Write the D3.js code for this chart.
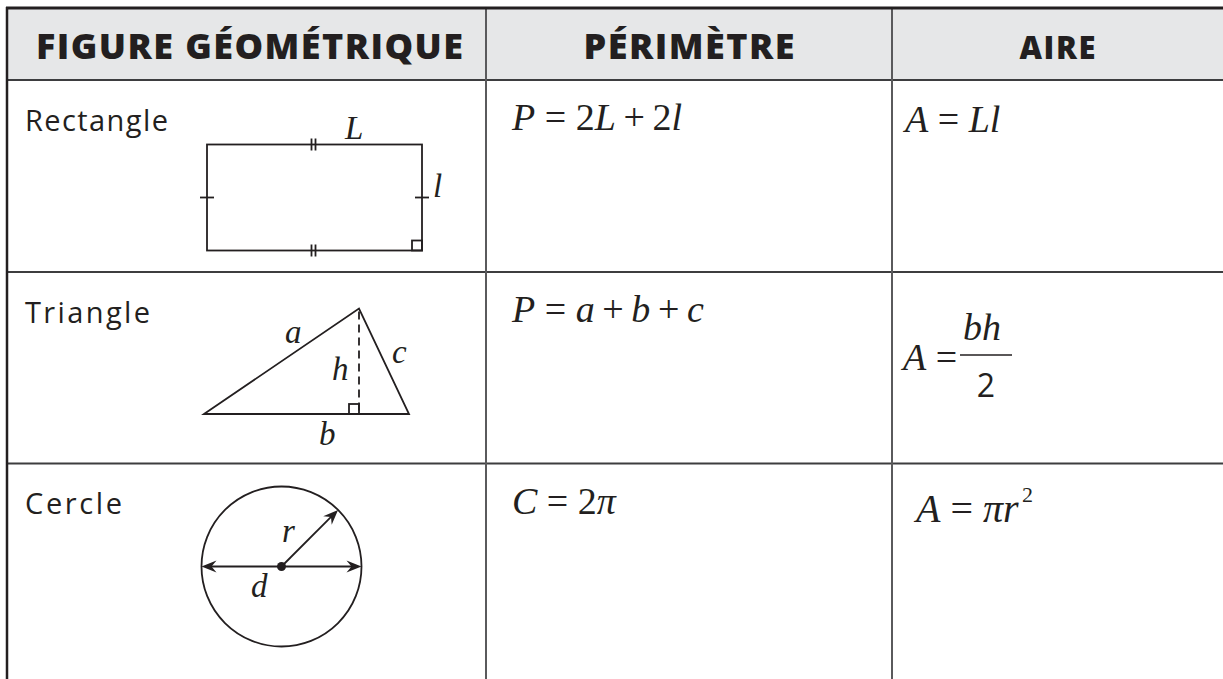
<!DOCTYPE html>
<html>
<head>
<meta charset="utf-8">
<script src="https://cdn.jsdelivr.net/npm/d3@7"></script>
<style>
body { margin: 0; background: #fff; }
.head { font-family: "Open Sans", sans-serif; font-weight: 800; fill: #231f20; }
.label { font-family: "Open Sans", sans-serif; fill: #231f20; }
.math { font-family: "Liberation Serif", "Times New Roman", serif; fill: #231f20; }
.fig { fill: none; stroke: #231f20; stroke-width: 1.8; }
</style>
</head>
<body>
<div id="chart"></div>
<script>
// table content
var headers = ["FIGURE GÉOMÉTRIQUE", "PÉRIMÈTRE", "AIRE"];
var figures = ["Rectangle", "Triangle", "Cercle"];
var perimeters = ["P = 2L+2l", "P = a+b+c", "C = 2π"];
var areas = ["A = Ll", "A = bh/2", "A = πr^2"];

var width = 1223, height = 679;
var ink = "#231f20";

// column / row edges
var colX = d3.scaleLinear().domain([0, 1, 2, 3]).range([7, 486, 892, 1223]);
var rowY = d3.scaleLinear().domain([0, 1, 2, 3]).range([80, 272, 463.5, 655]);

var svg = d3.select("#chart").append("svg")
  .attr("width", width).attr("height", height)
  .style("display", "block");

svg.append("rect").attr("width", width).attr("height", height).attr("fill", "#fff");

// header band
svg.append("rect")
  .attr("x", colX(0)).attr("y", 8)
  .attr("width", width - colX(0)).attr("height", rowY(0) - 8)
  .attr("fill", "#e6e7e8");

// grid lines
svg.selectAll("line.h").data([0, 1, 2]).enter().append("line")
  .attr("x1", colX(0)).attr("x2", width)
  .attr("y1", function(d) { return rowY(d); })
  .attr("y2", function(d) { return rowY(d); })
  .attr("stroke", "#3d3d3f").attr("stroke-width", 2);

svg.selectAll("line.v").data([1, 2]).enter().append("line")
  .attr("x1", function(d) { return colX(d); })
  .attr("x2", function(d) { return colX(d); })
  .attr("y1", 8).attr("y2", height)
  .attr("stroke", "#5a5a5c").attr("stroke-width", 2);

svg.append("line").attr("x1", 6).attr("x2", width).attr("y1", 8).attr("y2", 8)
  .attr("stroke", ink).attr("stroke-width", 3);
svg.append("line").attr("x1", 7).attr("x2", 7).attr("y1", 7).attr("y2", height)
  .attr("stroke", ink).attr("stroke-width", 2.5);

// headers
var headSize = [36, 36, 31], headLen = [427, 211, 76];
svg.selectAll("text.head").data(headers).enter().append("text")
  .attr("class", "head")
  .attr("x", function(d, i) { return (colX(i) + colX(i + 1)) / 2 + (i == 0 ? 3 : 0); })
  .attr("y", function(d, i) { return i == 2 ? 59 : 58.5; })
  .attr("text-anchor", "middle")
  .attr("font-size", function(d, i) { return headSize[i]; })
  .attr("textLength", function(d, i) { return headLen[i]; })
  .attr("lengthAdjust", "spacing")
  .text(function(d) { return d; });

// row labels
var labelLen = [143, 125, 97];
svg.selectAll("text.label").data(figures).enter().append("text")
  .attr("class", "label")
  .attr("x", 25)
  .attr("y", function(d, i) { return rowY(i) + 50.5; })
  .attr("font-size", 29)
  .attr("textLength", function(d, i) { return labelLen[i]; })
  .attr("lengthAdjust", "spacing")
  .text(function(d) { return d; });

// formula writer: letters italic, digits/operators upright
function runs(str) {
  var out = [];
  str.split("").forEach(function(c) {
    var it = /[A-Za-zπ]/.test(c);
    var last = out[out.length - 1];
    if (last && last.it == it) last.t += c;
    else out.push({t: c, it: it});
  });
  return out;
}

function writeMath(g, str, x, y, size) {
  var sup = null;
  if (str.indexOf("^") >= 0) { sup = str.split("^")[1]; str = str.split("^")[0]; }
  str = str.replace(/\+/g, "\u2009+\u2009");
  var t = g.append("text").attr("class", "math")
    .attr("x", x).attr("y", y).attr("font-size", size)
    .attr("xml:space", "preserve").style("white-space", "pre");
  runs(str).forEach(function(r) {
    t.append("tspan").attr("font-style", r.it ? "italic" : "normal").text(r.t);
  });
  if (sup) {
    var bb = t.node().getBBox();
    g.append("text").attr("class", "math")
      .attr("x", bb.x + bb.width + 3).attr("y", y - size * 0.5)
      .attr("font-size", size * 0.55).text(sup);
  }
  return t;
}

var cells = svg.append("g");

// perimeter column
perimeters.forEach(function(p, i) {
  writeMath(cells, p, colX(1) + 26, rowY(i) + 50, 38);
});

// area column
var areaX = [905, 903, 916];
areas.forEach(function(a, i) {
  if (a.indexOf("/") >= 0) {
    var lhs = a.split(" = ")[0], frac = a.split(" = ")[1].split("/");
    writeMath(cells, lhs + " =", areaX[i], rowY(i) + 98, 38);
    var fx = areaX[i] + 57, fw = 52;
    writeMath(cells, frac[0], fx + 3, rowY(i) + 68, 38);
    cells.append("line").attr("x1", fx).attr("x2", fx + fw)
      .attr("y1", rowY(i) + 83).attr("y2", rowY(i) + 83)
      .attr("stroke", ink).attr("stroke-width", 1.5);
    cells.append("text").attr("class", "label")
      .attr("x", fx + fw / 2).attr("y", rowY(i) + 125)
      .attr("text-anchor", "middle").attr("font-size", 32).text(frac[1]);
  } else {
    writeMath(cells, a, areaX[i], i == 0 ? rowY(i) + 52 : rowY(i) + 58.5, i == 2 ? 40 : 38);
  }
});

// ---- figures ----
var fig = svg.append("g");

function italicLabel(t, x, y, size) {
  fig.append("text").attr("class", "math").attr("font-style", "italic")
    .attr("x", x).attr("y", y).attr("font-size", size || 33).text(t);
}

// rectangle
var rx = d3.scaleLinear().domain([0, 1]).range([207, 422]);
var ry = d3.scaleLinear().domain([0, 1]).range([144.5, 250.5]);
fig.append("rect").attr("class", "fig")
  .attr("x", rx(0)).attr("y", ry(0))
  .attr("width", rx(1) - rx(0)).attr("height", ry(1) - ry(0));
[ry(0), ry(1)].forEach(function(y) {
  [-2, 2].forEach(function(dx) {
    fig.append("line").attr("class", "fig")
      .attr("x1", (rx(0) + rx(1)) / 2 - 1 + dx).attr("x2", (rx(0) + rx(1)) / 2 - 1 + dx)
      .attr("y1", y - 6).attr("y2", y + 6).attr("stroke-width", 1.4);
  });
});
[rx(0), rx(1)].forEach(function(x) {
  fig.append("line").attr("class", "fig")
    .attr("x1", x - 7).attr("x2", x + 7)
    .attr("y1", (ry(0) + ry(1)) / 2).attr("y2", (ry(0) + ry(1)) / 2).attr("stroke-width", 1.4);
});
fig.append("rect").attr("class", "fig").attr("stroke-width", 1.4)
  .attr("x", rx(1) - 10).attr("y", ry(1) - 10).attr("width", 10).attr("height", 10);
italicLabel("L", 345, 139);
italicLabel("l", 433, 197);

// triangle
var tri = [[204, 414], [359, 308.5], [409, 414]];
fig.append("path").attr("class", "fig")
  .attr("d", d3.line()(tri) + "Z").attr("stroke-linejoin", "miter");
fig.append("line").attr("class", "fig")
  .attr("x1", tri[1][0]).attr("x2", tri[1][0])
  .attr("y1", tri[1][1] + 3).attr("y2", tri[0][1])
  .attr("stroke-width", 1.4).attr("stroke-dasharray", "8,5");
fig.append("rect").attr("class", "fig").attr("stroke-width", 1.4)
  .attr("x", tri[1][0] - 10).attr("y", tri[0][1] - 10).attr("width", 10).attr("height", 10);
italicLabel("a", 285, 343);
italicLabel("h", 332, 380);
italicLabel("c", 392, 363);
italicLabel("b", 319, 445);

// circle
var cx = 281.5, cy = 566.5, cr = 80;
fig.append("circle").attr("class", "fig").attr("cx", cx).attr("cy", cy).attr("r", cr);
var rEnd = [cx + cr * Math.cos(-Math.PI / 4), cy + cr * Math.sin(-Math.PI / 4)];
fig.append("line").attr("class", "fig")
  .attr("x1", cx - cr + 8).attr("x2", cx + cr - 8).attr("y1", cy).attr("y2", cy);
fig.append("line").attr("class", "fig")
  .attr("x1", cx).attr("y1", cy)
  .attr("x2", rEnd[0] - 6).attr("y2", rEnd[1] + 6);
var heads = [[cx - cr, cy, 180], [cx + cr, cy, 0], [rEnd[0], rEnd[1], -45]];
fig.selectAll("path.arrow").data(heads).enter().append("path")
  .attr("d", "M0,0 L-15,-6 L-10,0 L-15,6 Z")
  .attr("fill", ink)
  .attr("transform", function(d) { return "translate(" + d[0] + "," + d[1] + ") rotate(" + d[2] + ")"; });
fig.append("circle").attr("cx", cx).attr("cy", cy).attr("r", 4.5).attr("fill", ink);
italicLabel("r", 282, 542);
italicLabel("d", 251, 597);
</script>
</body>
</html>
